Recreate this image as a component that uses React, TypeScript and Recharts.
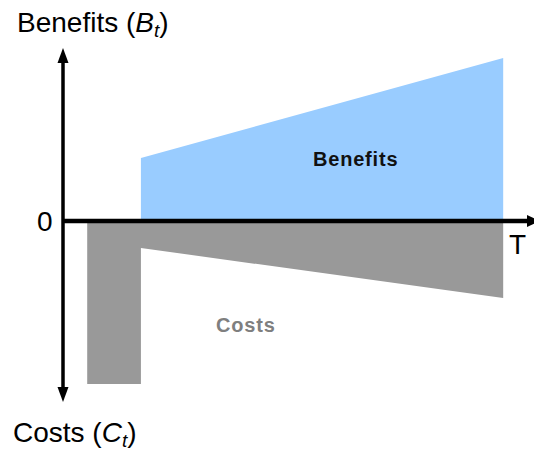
import React from 'react';
import { ComposedChart, Area, XAxis, YAxis, ReferenceLine } from 'recharts';

// time points (T = 10), benefits and costs per point
const TIMES = [0.55, 1.77, 1.77, 10];
const BENEFITS = [null, null, 63, 163];
const COSTS = [-163, -163, -27, -77];

const X_DOMAIN = [0, 10.7];
const Y_DOMAIN = [-181, 173];

const data = TIMES.map((t, i) => ({ t, benefits: BENEFITS[i], costs: COSTS[i] }));

const FONT = '"Liberation Sans", Arial, sans-serif';

// vertical axis with arrow heads on both ends
const VerticalAxis = (props: any) => {
  const { x1, y1, y2 } = props;
  const top = Math.min(y1, y2);
  const bottom = Math.max(y1, y2);
  return (
    <g>
      <line x1={x1} x2={x1} y1={top + 12} y2={bottom - 12} stroke="#000" strokeWidth={3.5} />
      <polygon points={`${x1},${top} ${x1 - 5.5},${top + 15} ${x1 + 5.5},${top + 15}`} fill="#000" />
      <polygon points={`${x1},${bottom} ${x1 - 5.5},${bottom - 15} ${x1 + 5.5},${bottom - 15}`} fill="#000" />
    </g>
  );
};

// horizontal axis with arrow at the right end
const HorizontalAxis = (props: any) => {
  const { x1, x2, y1 } = props;
  const left = Math.min(x1, x2);
  const right = Math.max(x1, x2);
  return (
    <g>
      <line x1={left} x2={right - 6} y1={y1} y2={y1} stroke="#000" strokeWidth={4.5} />
      <polygon points={`${right + 6},${y1} ${right - 7},${y1 - 6} ${right - 7},${y1 + 6}`} fill="#000" />
    </g>
  );
};

const label = (left: number, top: number, size: number, extra: React.CSSProperties = {}) => ({
  position: 'absolute' as const,
  left,
  top,
  fontSize: size,
  lineHeight: 1,
  fontFamily: FONT,
  whiteSpace: 'nowrap' as const,
  ...extra,
});

const sub: React.CSSProperties = { fontStyle: 'italic', fontSize: 19, position: 'relative', top: 5 };

export default function App() {
  return (
    <div style={{ position: 'absolute', left: 0, top: 0, width: 534, height: 452, background: '#fff' }}>
      <ComposedChart
        width={534}
        height={452}
        data={data}
        margin={{ top: 48, right: 0, bottom: 50, left: 63 }}
      >
        <XAxis dataKey="t" type="number" domain={X_DOMAIN} hide allowDataOverflow />
        <YAxis type="number" domain={Y_DOMAIN} hide allowDataOverflow />
        <Area
          type="linear"
          dataKey="costs"
          stroke="none"
          fill="#999999"
          fillOpacity={1}
          baseValue={0}
          isAnimationActive={false}
        />
        <Area
          type="linear"
          dataKey="benefits"
          stroke="none"
          fill="#99CCFF"
          fillOpacity={1}
          baseValue={0}
          isAnimationActive={false}
        />
        <ReferenceLine y={0} shape={HorizontalAxis} />
        <ReferenceLine x={0} shape={VerticalAxis} />
      </ComposedChart>

      <div style={label(17, 9, 28)}>
        Benefits (<i>B</i><span style={sub}>t</span>)
      </div>
      <div style={label(13, 419, 28)}>
        Costs (<i>C</i><span style={sub}>t</span>)
      </div>
      <div style={label(37, 208, 28)}>0</div>
      <div style={label(509, 231, 28)}>T</div>
      <div style={label(313, 149, 20, { fontWeight: 'bold', letterSpacing: 0.8, color: '#111' })}>Benefits</div>
      <div style={label(216, 315, 20, { fontWeight: 'bold', letterSpacing: 0.8, color: '#7f7f7f' })}>Costs</div>
    </div>
  );
}
